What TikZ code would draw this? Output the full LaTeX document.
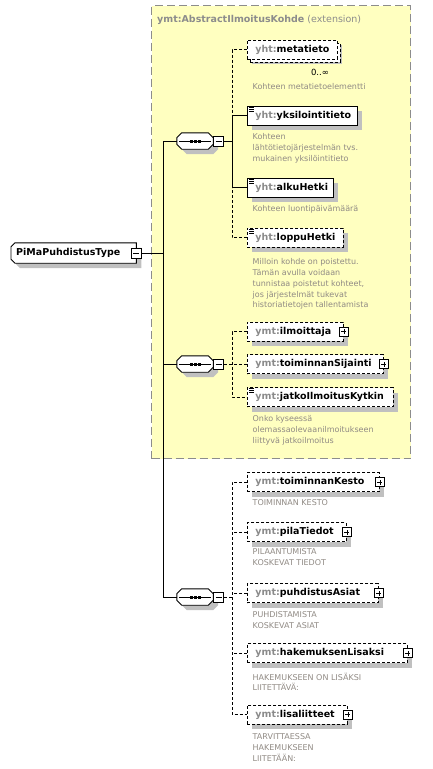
\documentclass[tikz,border=0pt]{standalone}
\usepackage{fontspec}
\setmainfont{DejaVu Sans}
\usepackage{tikz}
\usetikzlibrary{shadows}
\pgfdeclarelayer{bg}
\pgfsetlayers{bg,main}
\definecolor{extfill}{HTML}{FFFFC0}
\definecolor{extline}{HTML}{8C8C8C}
\definecolor{nsgray}{HTML}{8A8A8A}
\definecolor{descgray}{HTML}{908A84}
\definecolor{shadowgray}{HTML}{C0C0C0}
\newcommand{\ns}[1]{\textcolor{nsgray}{#1:}}
% octagon round a compositor node, shifted by #2
\newcommand{\octpath}[2]{%
  ([shift={(#2,#2)},xshift=5pt]#1.north west)
  -- ([shift={(#2,#2)},xshift=-5pt]#1.north east)
  -- ([shift={(#2,#2)},yshift=-5pt]#1.north east)
  -- ([shift={(#2,#2)},yshift=5pt]#1.south east)
  -- ([shift={(#2,#2)},xshift=-5pt]#1.south east)
  -- ([shift={(#2,#2)},xshift=5pt]#1.south west)
  -- ([shift={(#2,#2)},yshift=5pt]#1.south west)
  -- ([shift={(#2,#2)},yshift=-5pt]#1.north west) -- cycle}
% box with cut corners on the left only
\newcommand{\rootpath}[2]{%
  ([shift={(#2,#2)},xshift=4pt]#1.north west)
  -- ([shift={(#2,#2)}]#1.north east)
  -- ([shift={(#2,#2)}]#1.south east)
  -- ([shift={(#2,#2)},xshift=4pt]#1.south west)
  -- ([shift={(#2,#2)},yshift=4pt]#1.south west)
  -- ([shift={(#2,#2)},yshift=-4pt]#1.north west) -- cycle}

\begin{document}
\begin{tikzpicture}[x=1pt,y=-1pt,
  conn/.style={line width=0.9pt},
  optconn/.style={conn,dash pattern=on 3pt off 2pt},
  shade5/.style={drop shadow={shadow xshift=5pt,shadow yshift=-5pt,
                 fill=shadowgray,opacity=1}},
  boxw/.style={text width=#1,align=left},
  elem/.style={draw,fill=white,anchor=west,minimum height=19pt,
               inner xsep=8pt,inner ysep=0pt,line width=0.9pt,
               font=\fontsize{9.5}{11}\selectfont\bfseries,shade5},
  optel/.style={elem,dash pattern=on 3pt off 2pt},
  simple/.style={path picture={
      \foreach \d in {1.2pt,3.2pt,5.2pt}
        \draw[solid,line width=0.7pt]
          ([xshift=2pt,yshift=-\d]path picture bounding box.north west)
          -- ++(5pt,0pt);}},
  plusbox/.style={draw,solid,fill=white,minimum size=9pt,inner sep=0pt,
      line width=0.8pt,path picture={
      \draw ([xshift=2pt]path picture bounding box.west)
         -- ([xshift=-2pt]path picture bounding box.east)
            ([yshift=2pt]path picture bounding box.south)
         -- ([yshift=-2pt]path picture bounding box.north);}},
  minusbox/.style={draw,solid,fill=white,minimum size=10pt,inner sep=0pt,
      line width=0.8pt,path picture={
      \draw ([xshift=2pt]path picture bounding box.west)
         -- ([xshift=-2pt]path picture bounding box.east);}},
  seqbox/.style={minimum width=36pt,minimum height=16pt,inner sep=0pt},
  desc/.style={anchor=north west,inner sep=0pt,align=left,text=descgray,
      font=\fontsize{8}{10.8}\selectfont}]
  \useasboundingbox (0,0) rectangle (433,769);

  % extension area
  \node[draw=extline,fill=extfill,line width=1.2pt,dash pattern=on 8pt off 4pt,
        anchor=north west,minimum width=259pt,minimum height=453pt,inner sep=0pt]
        (ext) at (151,5) {};
  \node[anchor=base west,inner sep=0pt,text=extline,
        font=\fontsize{9.5}{11}\selectfont] (exttitle) at (157,22.5)
        {\textbf{ymt:AbstractIlmoitusKohde} (extension)};

  % root
  \node[anchor=west,inner xsep=5pt,inner ysep=0pt,minimum height=20pt,
        boxw=115pt,font=\fontsize{9.5}{11}\selectfont\bfseries] (root)
        at (11,253) {PiMaPuhdistusType};
  \begin{pgfonlayer}{bg}
    \fill[shadowgray] \rootpath{root}{5};
    \filldraw[fill=white,line width=0.9pt] \rootpath{root}{0};
  \end{pgfonlayer}
  \node[minusbox] (rootx) at (root.east) {};
  \coordinate (trunk) at (163,0);
  \coordinate (spine) at (232,0);

  % compositors
  \foreach \s/\y in {seqA/141,seqB/364,seqC/597}{
    \node[seqbox] (\s) at (195,\y) {};
    \fill[shadowgray] \octpath{\s}{5};
    \filldraw[fill=white,line width=0.9pt] \octpath{\s}{0};
    \draw[line width=0.9pt] ([xshift=2pt]\s.west) -- ([xshift=-2pt]\s.east);
    \foreach \q in {-5.5pt,-1.5pt,2.5pt}
      \fill ([xshift=\q,yshift=-1.5pt]\s.center) rectangle ++(3pt,3pt);
    \node[minusbox,anchor=west] (\s x) at (\s.east) {};
  }

  % first sequence
  \node[optel,boxw=74pt,copy shadow={shadow xshift=3pt,shadow yshift=-3pt,
        draw=black,fill=white}] (metatieto) at (247,49.5) {\ns{yht}metatieto};
  \node[inner sep=0pt,font=\fontsize{8.5}{10}\selectfont] (metamult)
        at (320,72) {0..∞};
  \node[desc] (metadesc) at (252.5,83.5) {Kohteen metatietoelementti};
  \node[elem,simple,boxw=94pt] (yksilo) at (247,115.5) {\ns{yht}yksilointitieto};
  \node[desc] (yksilodesc) at (252.5,133.5)
        {Kohteen\\lähtötietojärjestelmän tvs.\\mukainen yksilöintitieto};
  \node[elem,simple,boxw=70pt] (alku) at (247,187.5) {\ns{yht}alkuHetki};
  \node[desc] (alkudesc) at (252.5,205.5) {Kohteen luontipäivämäärä};
  \node[optel,simple,boxw=80pt] (loppu) at (247,237.5) {\ns{yht}loppuHetki};
  \node[desc] (loppudesc) at (252.5,258.5)
        {Milloin kohde on poistettu.\\Tämän avulla voidaan\\tunnistaa poistetut kohteet,\\
         jos järjestelmät tukevat\\historiatietojen tallentamista};

  % second sequence
  \node[optel,boxw=80pt] (ilmoittaja) at (247,331.5) {\ns{ymt}ilmoittaja};
  \node[plusbox] (ilmoittajax) at (ilmoittaja.east) {};
  \node[optel,boxw=120pt] (sijainti) at (247,364) {\ns{ymt}toiminnanSijainti};
  \node[plusbox] (sijaintix) at (sijainti.east) {};
  \node[optel,simple,boxw=130pt] (jatko) at (247,397) {\ns{ymt}jatkoIlmoitusKytkin};
  \node[desc] (jatkodesc) at (252.5,415.5)
        {Onko kyseessä\\olemassaolevaanilmoitukseen\\liittyvä jatkoilmoitus};

  % third sequence
  \node[optel,boxw=116pt] (kesto) at (247,482) {\ns{ymt}toiminnanKesto};
  \node[plusbox] (kestox) at (kesto.east) {};
  \node[desc] (kestodesc) at (252.5,499.5) {TOIMINNAN KESTO};
  \node[optel,boxw=83pt] (pila) at (247,532) {\ns{ymt}pilaTiedot};
  \node[plusbox] (pilax) at (pila.east) {};
  \node[desc] (piladesc) at (252.5,548.5) {PILAANTUMISTA\\KOSKEVAT TIEDOT};
  \node[optel,boxw=115pt] (asiat) at (247,593) {\ns{ymt}puhdistusAsiat};
  \node[plusbox] (asiatx) at (asiat.east) {};
  \node[desc] (asiatdesc) at (252.5,611.5) {PUHDISTAMISTA\\KOSKEVAT ASIAT};
  \node[optel,boxw=144pt] (lisaksi) at (247,653) {\ns{ymt}hakemuksenLisaksi};
  \node[plusbox] (lisaksix) at (lisaksi.east) {};
  \node[desc] (lisaksidesc) at (252.5,672.5) {HAKEMUKSEEN ON LISÄKSI\\LIITETTÄVÄ:};
  \node[optel,boxw=84pt] (liitteet) at (247,714.5) {\ns{ymt}lisaliitteet};
  \node[plusbox] (liitteetx) at (liitteet.east) {};
  \node[desc] (liitteetdesc) at (252.5,733.5)
        {TARVITTAESSA\\HAKEMUKSEEN\\LIITETÄÄN:};

  % connectors
  \draw[conn] (rootx.east) -- (rootx.east -| trunk);
  \draw[conn] (seqA.west) -| (trunk |- seqC.west) -- (seqC.west);
  \draw[conn] (seqB.west) -- (seqB.west -| trunk);

  \draw[conn] (seqAx.east) -- (seqAx.east -| spine);
  \draw[optconn] (metatieto.west) -| (spine |- yksilo.west);
  \draw[conn] (yksilo.west) -| (spine |- alku.west) -- (alku.west);
  \draw[optconn] (loppu.west) -| (spine |- alku.west);

  \draw[optconn] (seqBx.east) -- (sijainti.west);
  \draw[optconn] (ilmoittaja.west) -| (spine |- jatko.west) -- (jatko.west);

  \draw[optconn] (seqCx.east) -- (seqCx.east -| spine);
  \draw[optconn] (kesto.west) -| (spine |- liitteet.west) -- (liitteet.west);
  \foreach \n in {pila,asiat,lisaksi}
    \draw[optconn] (\n.west) -- (\n.west -| spine);
\end{tikzpicture}
\end{document}
